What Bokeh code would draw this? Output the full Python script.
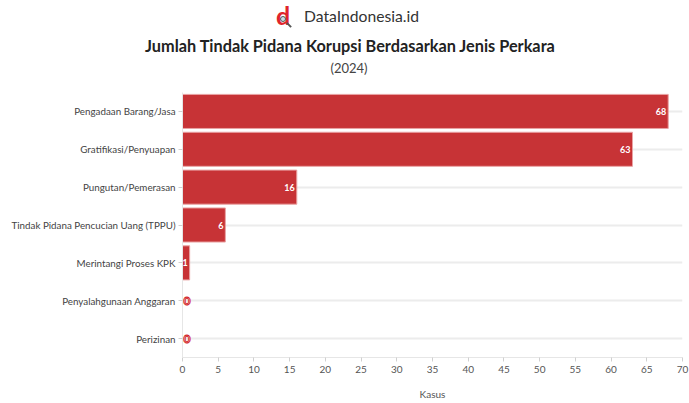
from bokeh.plotting import figure
from bokeh.models import ColumnDataSource, FactorRange, Range1d, FixedTicker, Div
from bokeh.layouts import column
from bokeh.core.properties import value
from bokeh.embed import file_html
from bokeh.resources import INLINE

categories = ["Pengadaan Barang/Jasa", "Gratifikasi/Penyuapan", "Pungutan/Pemerasan",
              "Tindak Pidana Pencucian Uang (TPPU)", "Merintangi Proses KPK",
              "Penyalahgunaan Anggaran", "Perizinan"]
values = [68, 63, 16, 6, 1, 0, 0]
x_ticks = list(range(0, 75, 5))
title_text = "Jumlah Tindak Pidana Korupsi Berdasarkan Jenis Perkara"
subtitle_text = "(2024)"
brand_text = "DataIndonesia.id"
axis_title = "Kasus"

FONT = "Lato"
W, H = 689, 403
HEAD = 92

# ---------- header ----------
header_html = f"""
<div style="position:relative;width:{W}px;height:{HEAD}px;font-family:Lato,sans-serif;white-space:nowrap;margin:0;padding:0;">
  <span style="position:absolute;left:276px;top:1px;line-height:28px;font-size:25px;font-weight:bold;color:#e0242b;">d</span>
  <span style="position:absolute;left:280px;top:16px;width:6px;height:6px;border-radius:50%;background:#c9dce6;border:1.3px solid #555555;"></span>
  <span style="position:absolute;left:286px;top:24px;width:6px;height:2px;background:#555555;transform:rotate(45deg);"></span>
  <span style="position:absolute;left:304px;top:6px;line-height:20px;font-size:15.7px;color:#333333;">{brand_text}</span>
  <span style="position:absolute;left:0px;width:700px;text-align:center;top:36px;line-height:20px;font-size:16.3px;font-weight:bold;color:#222222;">{title_text}</span>
  <span style="position:absolute;left:0px;width:698px;text-align:center;top:58px;line-height:20px;font-size:13px;color:#444444;">{subtitle_text}</span>
</div>
"""
header = Div(text=header_html, width=W, height=HEAD, margin=(0, 0, 0, 0))

# ---------- chart ----------
p = figure(width=W, height=H - HEAD, output_backend="svg", toolbar_location=None,
           y_range=FactorRange(factors=list(reversed(categories))),
           x_range=Range1d(0, 70),
           min_border_left=182, min_border_right=7, min_border_top=0, min_border_bottom=46)
p.outline_line_color = None

pos = [v for v in values if v > 0]
pos_c = [c for c, v in zip(categories, values) if v > 0]
zero_c = [c for c, v in zip(categories, values) if v == 0]
src = ColumnDataSource(dict(cat=categories, val=values))
psrc = ColumnDataSource(dict(cat=pos_c, val=pos, lab=[str(v) for v in pos]))
zsrc = ColumnDataSource(dict(cat=zero_c, val=[0] * len(zero_c), lab=["0"] * len(zero_c)))

p.hbar(y="cat", right="val", left=0, height=0.9, source=src,
       fill_color="#c73336", line_color="#e9a3a4", line_width=1)

p.text(x="val", y="cat", text="lab", source=psrc, x_offset=-2,
       text_align="right", text_baseline="middle", text_color="white",
       text_font=value(FONT), text_font_size="9px", text_font_style="bold")
p.text(x="val", y="cat", text="lab", source=zsrc, x_offset=1,
       text_align="left", text_baseline="middle", text_color="white",
       text_outline_color="#d3262b",
       text_font=value(FONT), text_font_size="12px", text_font_style="bold")

p.xgrid.grid_line_color = None
p.ygrid.grid_line_color = "#ececec"
p.ygrid.grid_line_width = 2

p.xaxis.ticker = FixedTicker(ticks=x_ticks)
p.xaxis.minor_tick_line_color = None
p.xaxis.axis_line_color = "#e6e6e6"
p.xaxis.major_tick_line_color = "#d0d0d0"
p.xaxis.major_tick_out = 4
p.xaxis.major_tick_in = 0
p.xaxis.major_label_standoff = 4
p.xaxis.major_label_text_font = FONT
p.xaxis.major_label_text_font_size = "10px"
p.xaxis.major_label_text_color = "#555555"
p.xaxis.axis_label = axis_title
p.xaxis.axis_label_text_font = FONT
p.xaxis.axis_label_text_font_style = "normal"
p.xaxis.axis_label_text_font_size = "10px"
p.xaxis.axis_label_text_color = "#555555"
p.xaxis.axis_label_standoff = 12

p.yaxis.axis_line_color = "#e6e6e6"
p.yaxis.major_tick_line_color = "#d0d0d0"
p.yaxis.major_tick_out = 4
p.yaxis.major_tick_in = 0
p.yaxis.major_label_text_font = FONT
p.yaxis.major_label_text_font_size = "9.8px"
p.yaxis.major_label_text_color = "#444444"
p.yaxis.major_label_standoff = 3

layout = column(header, p, spacing=0)
open("out.html", "w").write(file_html(layout, INLINE))
